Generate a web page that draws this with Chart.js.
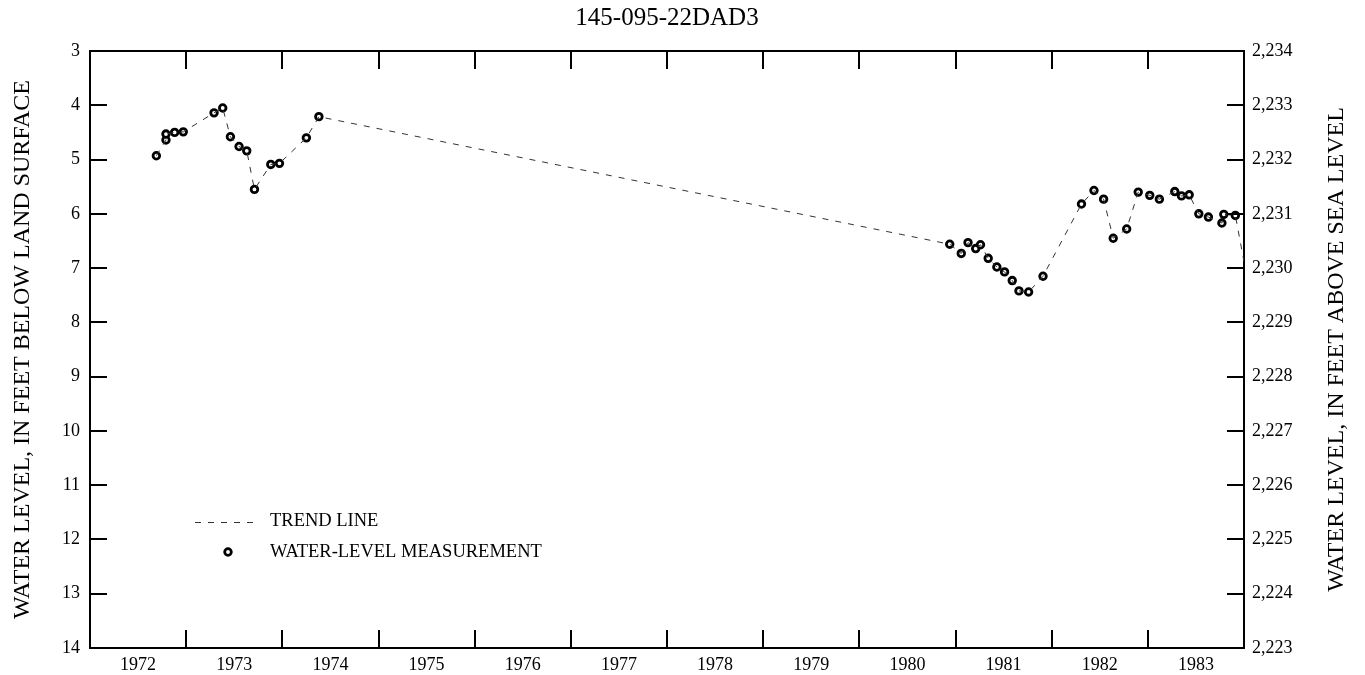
<!DOCTYPE html>
<html>
<head>
<meta charset="utf-8">
<title>145-095-22DAD3</title>
<script src="https://cdn.jsdelivr.net/npm/chart.js@4.4.1/dist/chart.umd.min.js"></script>
<style>
  html, body { margin: 0; padding: 0; background: #fff; }
  canvas { display: block; }
</style>
</head>
<body>
<canvas id="wellChart" width="1365" height="675"></canvas>
<script>
// measurement dates (decimal years) and depth to water, feet below land surface
const measYears = [1972.69, 1972.79, 1972.79, 1972.88, 1972.97, 1973.29, 1973.38, 1973.46, 1973.55, 1973.63,
  1973.71, 1973.88, 1973.97, 1974.25, 1974.38,
  1980.94, 1981.06, 1981.13, 1981.21, 1981.26, 1981.34, 1981.43, 1981.51, 1981.59, 1981.66,
  1981.76, 1981.91, 1982.31, 1982.44, 1982.54, 1982.64, 1982.78, 1982.90, 1983.02, 1983.12,
  1983.28, 1983.35, 1983.43, 1983.53, 1983.63, 1983.77, 1983.79, 1983.91];
const measDepths = [4.93, 4.64, 4.53, 4.50, 4.49, 4.14, 4.05, 4.58, 4.76, 4.84,
  5.55, 5.09, 5.07, 4.60, 4.21,
  6.56, 6.73, 6.53, 6.64, 6.57, 6.82, 6.98, 7.07, 7.23, 7.42,
  7.44, 7.15, 5.82, 5.57, 5.73, 6.45, 6.28, 5.60, 5.66, 5.73,
  5.59, 5.67, 5.65, 6.00, 6.06, 6.17, 6.01, 6.03];

// trend line runs off the right edge toward the next reading
const trendEndYear = [1984.0];
const trendEndDepth = [6.88];

// axis labels
const yearLabels = ['1972', '1973', '1974', '1975', '1976', '1977', '1978', '1979', '1980', '1981', '1982', '1983'];
const depthTicks = [3, 4, 5, 6, 7, 8, 9, 10, 11, 12, 13, 14];
const landSurface = 2237; // altitude = landSurface - depth

const serif = '"Liberation Serif", "Times New Roman", serif';

const measPoints = measYears.map((x, i) => ({ x: x, y: measDepths[i] }));
const trendPoints = measPoints.concat(trendEndYear.map((x, i) => ({ x: x, y: trendEndDepth[i] })));

// frame, inward tick marks, title, right axis title and legend
const framePlugin = {
  id: 'frame',
  afterDraw(chart) {
    const ctx = chart.ctx;
    const a = chart.chartArea;
    const xs = chart.scales.x;
    const ys = chart.scales.y;
    ctx.save();
    ctx.strokeStyle = '#000';
    ctx.lineWidth = 2;
    // top border
    ctx.beginPath();
    ctx.moveTo(a.left - 1, a.top);
    ctx.lineTo(a.right + 1, a.top);
    ctx.stroke();
    // year ticks top and bottom
    for (let yr = 1973; yr < 1984; yr++) {
      const px = Math.round(xs.getPixelForValue(yr));
      ctx.beginPath();
      ctx.moveTo(px, a.top);
      ctx.lineTo(px, a.top + 18);
      ctx.moveTo(px, a.bottom);
      ctx.lineTo(px, a.bottom - 18);
      ctx.stroke();
    }
    // depth ticks left and right
    depthTicks.forEach(d => {
      if (d === 3 || d === 14) return;
      const py = Math.round(ys.getPixelForValue(d));
      ctx.beginPath();
      ctx.moveTo(a.left, py);
      ctx.lineTo(a.left + 17, py);
      ctx.moveTo(a.right, py);
      ctx.lineTo(a.right - 17, py);
      ctx.stroke();
    });

    // title
    ctx.fillStyle = '#000';
    ctx.font = '25px ' + serif;
    ctx.textAlign = 'center';
    ctx.textBaseline = 'middle';
    ctx.fillText('145-095-22DAD3', (a.left + a.right) / 2, 18);

    // right axis title reads bottom to top, same as the left one
    ctx.save();
    ctx.translate(1337, (a.top + a.bottom) / 2);
    ctx.rotate(-Math.PI / 2);
    ctx.font = '24px ' + serif;
    ctx.fillText('WATER LEVEL, IN FEET ABOVE SEA LEVEL', 0, 0);
    ctx.restore();

    // legend
    ctx.strokeStyle = '#333';
    ctx.lineWidth = 1;
    ctx.setLineDash([6, 7]);
    ctx.beginPath();
    ctx.moveTo(195, 522.5);
    ctx.lineTo(260, 522.5);
    ctx.stroke();
    ctx.setLineDash([]);
    ctx.strokeStyle = '#000';
    ctx.lineWidth = 2.8;
    ctx.beginPath();
    ctx.arc(228, 552, 3.3, 0, Math.PI * 2);
    ctx.fillStyle = '#fff';
    ctx.fill();
    ctx.stroke();
    ctx.fillStyle = '#000';
    ctx.font = '18.5px ' + serif;
    ctx.textAlign = 'left';
    ctx.fillText('TREND LINE', 270, 521);
    ctx.fillText('WATER-LEVEL MEASUREMENT', 270, 552);
    ctx.restore();
  }
};

new Chart(document.getElementById('wellChart'), {
  type: 'scatter',
  data: {
    datasets: [
      {
        label: 'TREND LINE',
        data: trendPoints,
        showLine: true,
        borderColor: '#333',
        borderWidth: 1,
        borderDash: [6, 7],
        pointRadius: 0,
        tension: 0
      },
      {
        label: 'WATER-LEVEL MEASUREMENT',
        data: measPoints,
        showLine: false,
        pointRadius: 3.3,
        pointBorderWidth: 2.8,
        pointBorderColor: '#000',
        pointBackgroundColor: '#fff'
      }
    ]
  },
  options: {
    responsive: false,
    animation: false,
    devicePixelRatio: 1,
    layout: { padding: { top: 51, left: 0, right: 0, bottom: 0 } },
    plugins: {
      legend: { display: false },
      tooltip: { enabled: false },
      title: { display: false }
    },
    scales: {
      x: {
        type: 'linear',
        position: 'bottom',
        min: 1972,
        max: 1984,
        afterBuildTicks: s => { s.ticks = yearLabels.map(l => ({ value: Number(l) + 0.5 })); },
        afterFit: s => { s.height = 27; },
        grid: { display: false, drawTicks: false },
        border: { display: true, color: '#000', width: 2 },
        ticks: {
          color: '#000',
          padding: 6,
          maxRotation: 0,
          font: { family: serif, size: 18 },
          callback: (v, i) => yearLabels[i]
        }
      },
      y: {
        type: 'linear',
        position: 'left',
        reverse: true,
        min: 3,
        max: 14,
        afterBuildTicks: s => { s.ticks = depthTicks.map(d => ({ value: d })); },
        afterFit: s => { s.width = 90; },
        grid: { display: false, drawTicks: false },
        border: { display: true, color: '#000', width: 2 },
        ticks: {
          color: '#000',
          padding: 10,
          font: { family: serif, size: 18 }
        },
        title: {
          display: true,
          text: 'WATER LEVEL, IN FEET BELOW LAND SURFACE',
          color: '#000',
          font: { family: serif, size: 24 },
          padding: { top: 8, bottom: 0 }
        }
      },
      y2: {
        type: 'linear',
        position: 'right',
        min: landSurface - 14,
        max: landSurface - 3,
        afterBuildTicks: s => { s.ticks = depthTicks.map(d => ({ value: landSurface - d })); },
        afterFit: s => { s.width = 121; },
        grid: { display: false, drawTicks: false },
        border: { display: true, color: '#000', width: 2 },
        ticks: {
          color: '#000',
          padding: 8,
          font: { family: serif, size: 18 },
          callback: v => v.toLocaleString('en-US')
        }
      }
    }
  },
  plugins: [framePlugin]
});
</script>
</body>
</html>
